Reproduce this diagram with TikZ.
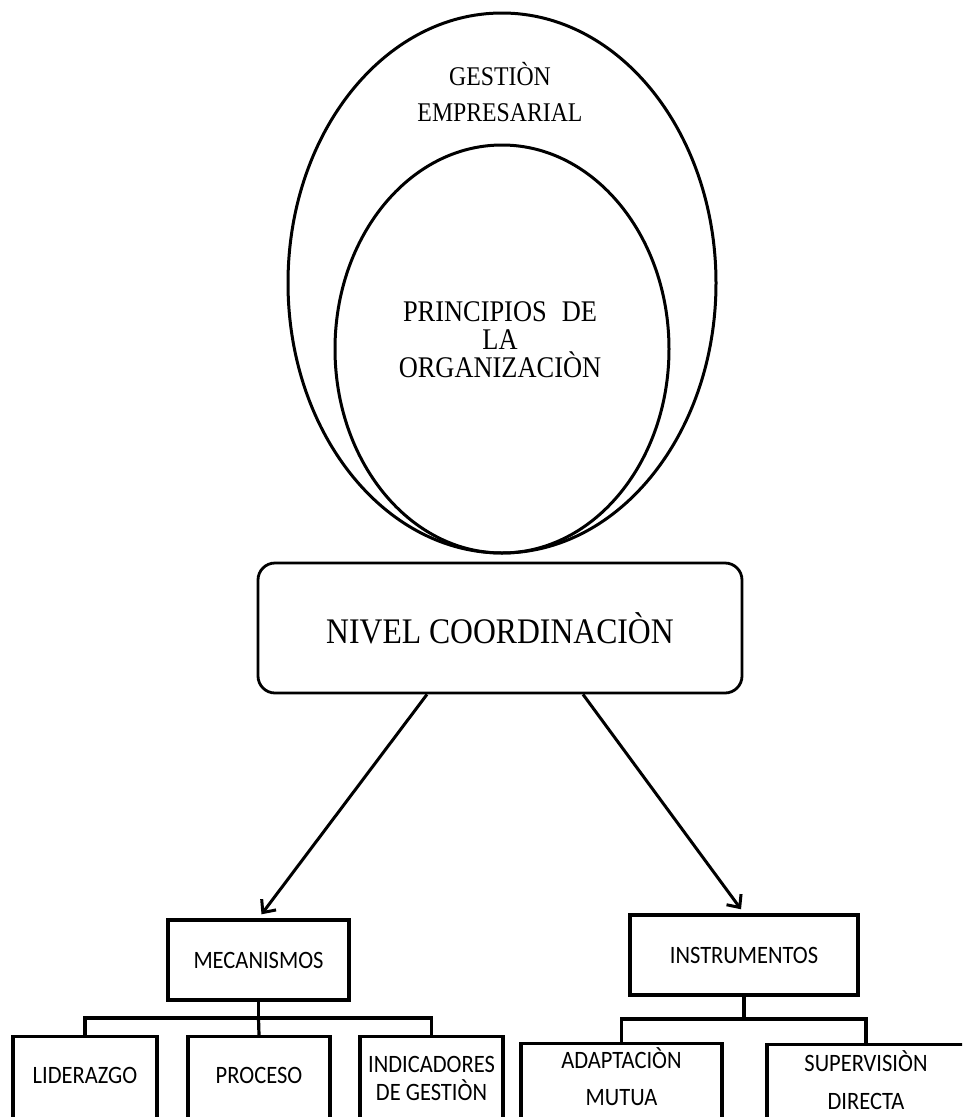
\documentclass[tikz,border=0pt]{standalone}
\usepackage{fontspec}
\setmainfont{Liberation Serif}
\newfontfamily\romana[FakeStretch=0.88]{Liberation Serif}
\newfontfamily\calibri[FakeStretch=0.9]{Carlito}
\usetikzlibrary{shapes.geometric,arrows.meta}

\begin{document}
\begin{tikzpicture}[x=1pt,y=-1pt,
    circulo/.style={draw,ellipse,line width=3pt,inner sep=0pt},
    caja/.style={draw,rectangle,line width=3.4pt,inner sep=2pt,align=center,
      font=\calibri\fontsize{25}{30}\selectfont},
    rama/.style={line width=3.2pt},
    flecha/.style={line width=3pt,-{Straight Barb[length=10pt,width=18pt]},shorten >=5pt}]
  \useasboundingbox (0,0) rectangle (962,1117);
  \clip (0,0) rectangle (962,1117);
  % circulos
  \node[circulo,minimum width=428pt,minimum height=540pt] (gestion) at (502,283) {};
  \node[circulo,minimum width=334pt,minimum height=408pt] (principios) at (502,349) {};
  \node[align=center,font=\romana\fontsize{27}{36}\selectfont] (tgestion) at (500,92) {GESTIÒN\\EMPRESARIAL};
  \node[align=center,font=\romana\fontsize{30}{28}\selectfont] (tprincipios) at (500,340) {PRINCIPIOS\enspace DE\\LA\\ORGANIZACIÒN};
  % nivel
  \node[draw,rounded corners=17pt,line width=2.8pt,minimum width=484pt,minimum height=130pt,
    font=\romana\fontsize{36}{40}\selectfont] (nivel) at (500,628) {NIVEL COORDINACIÒN};
  % cajas
  \node[caja,minimum width=181pt,minimum height=80pt] (meca) at (258.5,960) {MECANISMOS};
  \node[caja,minimum width=228pt,minimum height=80pt] (inst) at (744,955) {INSTRUMENTOS};
  \node[caja,minimum width=144pt,minimum height=84pt,anchor=north] (lid) at (85,1035) {LIDERAZGO\rule[-6pt]{0pt}{0pt}};
  \node[caja,minimum width=142pt,minimum height=84pt,anchor=north] (proc) at (259,1035) {PROCESO\rule[-6pt]{0pt}{0pt}};
  \node[caja,minimum width=143pt,minimum height=84pt,anchor=north,
    font=\calibri\fontsize{25}{28}\selectfont] (ind) at (431.5,1035) {INDICADORES\\DE GESTIÒN};
  \node[caja,minimum width=201pt,minimum height=84pt,anchor=north,
    font=\calibri\fontsize{25}{37}\selectfont] (adap) at (621.5,1042) {ADAPTACIÒN\\MUTUA\rule[-18pt]{0pt}{0pt}};
  \node[caja,minimum width=198pt,minimum height=84pt,anchor=north,
    font=\calibri\fontsize{25}{38.5}\selectfont] (sup) at (866,1043) {SUPERVISIÒN\\DIRECTA\rule[-13pt]{0pt}{0pt}};
  % flechas
  \draw[flecha] ([xshift=-73pt]nivel.south) -- (meca.north);
  \draw[flecha] ([xshift=83pt]nivel.south) -- (inst.north);
  % ramas
  \coordinate (mbar) at (258.5,1018);
  \coordinate (ibar) at (744,1019);
  \draw[rama] (meca.south) -- (mbar);
  \draw[rama] (lid.north) |- (mbar) -| (ind.north);
  \draw[rama] (mbar) -- (proc.north);
  \draw[rama] (inst.south) -- (ibar);
  \draw[rama] (adap.north) |- (ibar) -| (sup.north);
\end{tikzpicture}
\end{document}
